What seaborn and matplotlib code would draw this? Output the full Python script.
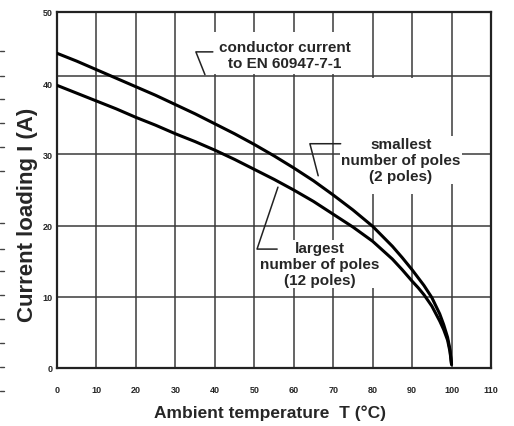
import matplotlib
matplotlib.use('Agg')
import matplotlib.pyplot as plt
import seaborn as sns
import pandas as pd
from matplotlib.lines import Line2D
from matplotlib.patches import Rectangle

# Valores
temperatura = [0, 5, 10, 15, 20, 25, 30, 35, 40, 45, 50, 55, 60, 65, 70, 75, 80,
               85, 87.5, 90, 91.5, 93, 95, 97, 98, 99, 99.6, 100]
corrente_2_polos = [44.2, 43.1, 41.9, 40.7, 39.5, 38.3, 37.0, 35.7, 34.3, 32.9, 31.4, 29.8,
                    28.1, 26.3, 24.3, 22.2, 19.9, 17.1, 15.5, 13.8, 12.7, 11.6, 9.9, 7.6,
                    6.1, 4.3, 2.6, 0.5]
corrente_12_polos = [39.7, 38.6, 37.5, 36.4, 35.2, 34.1, 32.9, 31.8, 30.6, 29.3, 27.9, 26.5,
                     25.0, 23.4, 21.6, 19.8, 17.8, 15.3, 13.8, 12.2, 11.3, 10.3, 8.7, 6.6,
                     5.4, 3.9, 2.3, 0.5]

x_ticks = [0, 10, 20, 30, 40, 50, 60, 70, 80, 90, 100, 110]
y_ticks = [0, 10, 20, 30, 40, 50]
linhas_grade = [10, 20, 30]
corrente_condutor = 41

df = pd.DataFrame({
    'T': temperatura * 2,
    'I': corrente_2_polos + corrente_12_polos,
    'serie': ['2 poles'] * len(temperatura) + ['12 poles'] * len(temperatura),
})

sns.set_style('white')
plt.rcParams['font.family'] = ['Liberation Sans', 'DejaVu Sans']

fig = plt.figure(figsize=(5.14, 4.27), dpi=100)
ax = fig.add_axes([57 / 514, 1 - 369 / 427, 434 / 514, 356 / 427])

grid_cor = '#3a3a3a'
for xv in x_ticks[1:-1]:
    ax.axvline(xv, color=grid_cor, lw=1.1, zorder=1)
for yv in linhas_grade:
    ax.axhline(yv, color=grid_cor, lw=1.1, zorder=1)
ax.axhline(corrente_condutor, color=grid_cor, lw=1.1, zorder=1)

sns.lineplot(data=df, x='T', y='I', units='serie', estimator=None,
             color='black', lw=2.2, ax=ax, zorder=5, legend=False,
             solid_joinstyle='round')

ax.set_xlim(0, 110)
ax.set_ylim(0, 50)
ax.set_xticks(x_ticks)
ax.set_yticks(y_ticks)
ax.set_xticklabels([str(v) for v in x_ticks], fontsize=6.5, fontweight='bold')
ax.set_yticklabels([str(v) for v in y_ticks], fontsize=6.5, fontweight='bold')
ax.tick_params(axis='x', length=0, pad=12)
ax.tick_params(axis='y', length=0, pad=3)
for s in ax.spines.values():
    s.set_color('#222222')
    s.set_linewidth(1.6)

ax.set_xlabel('Ambient temperature  T (°C)', fontsize=12.5, fontweight='bold', va='center')
ax.xaxis.set_label_coords(0.491, -0.124)
ax.set_ylabel('Current loading I (A)', fontsize=16, fontweight='bold', va='center')
ax.yaxis.set_label_coords(-0.067, 0.433)

# caixas brancas que interrompem a grade
ax.add_patch(Rectangle((39.8, 41.25), 35.8, 5.9, facecolor='white', edgecolor='none', zorder=2))
ax.add_patch(Rectangle((72.3, 24.4), 27.3, 16.4, facecolor='white', edgecolor='none', zorder=2))

txt = dict(fontsize=11, fontweight='bold', ha='center', va='center', linespacing=1.15, zorder=3)
ax.text(57.8, 44.0, 'conductor current\nto EN 60947-7-1', **txt)
ax.text(87.2, 29.2, 'smallest\nnumber of poles\n(2 poles)',
        bbox=dict(facecolor='white', edgecolor='none', pad=1), **txt)
ax.text(66.7, 14.6, 'largest\nnumber of poles\n(12 poles)',
        bbox=dict(facecolor='white', edgecolor='none', pad=1), **txt)

# linhas de chamada
ax.plot([39.5, 35.2, 37.5], [44.4, 44.4, 41.2], color='#222222', lw=1.1, zorder=4)
ax.plot([71.9, 64.1, 66.2], [31.5, 31.5, 27.0], color='#222222', lw=1.1, zorder=4)
ax.plot([55.8, 50.7, 56.0], [16.7, 16.7, 25.4], color='#222222', lw=1.1, zorder=4)

# marcas na borda esquerda da página
for yp in [52, 77, 100, 124, 148, 172, 224, 250, 272, 296, 320, 344, 368, 392]:
    fig.add_artist(Line2D([0.0, 0.008], [1 - yp / 427, 1 - yp / 427], color='#444444', lw=1.0))

fig.savefig('out.png', dpi=100)
